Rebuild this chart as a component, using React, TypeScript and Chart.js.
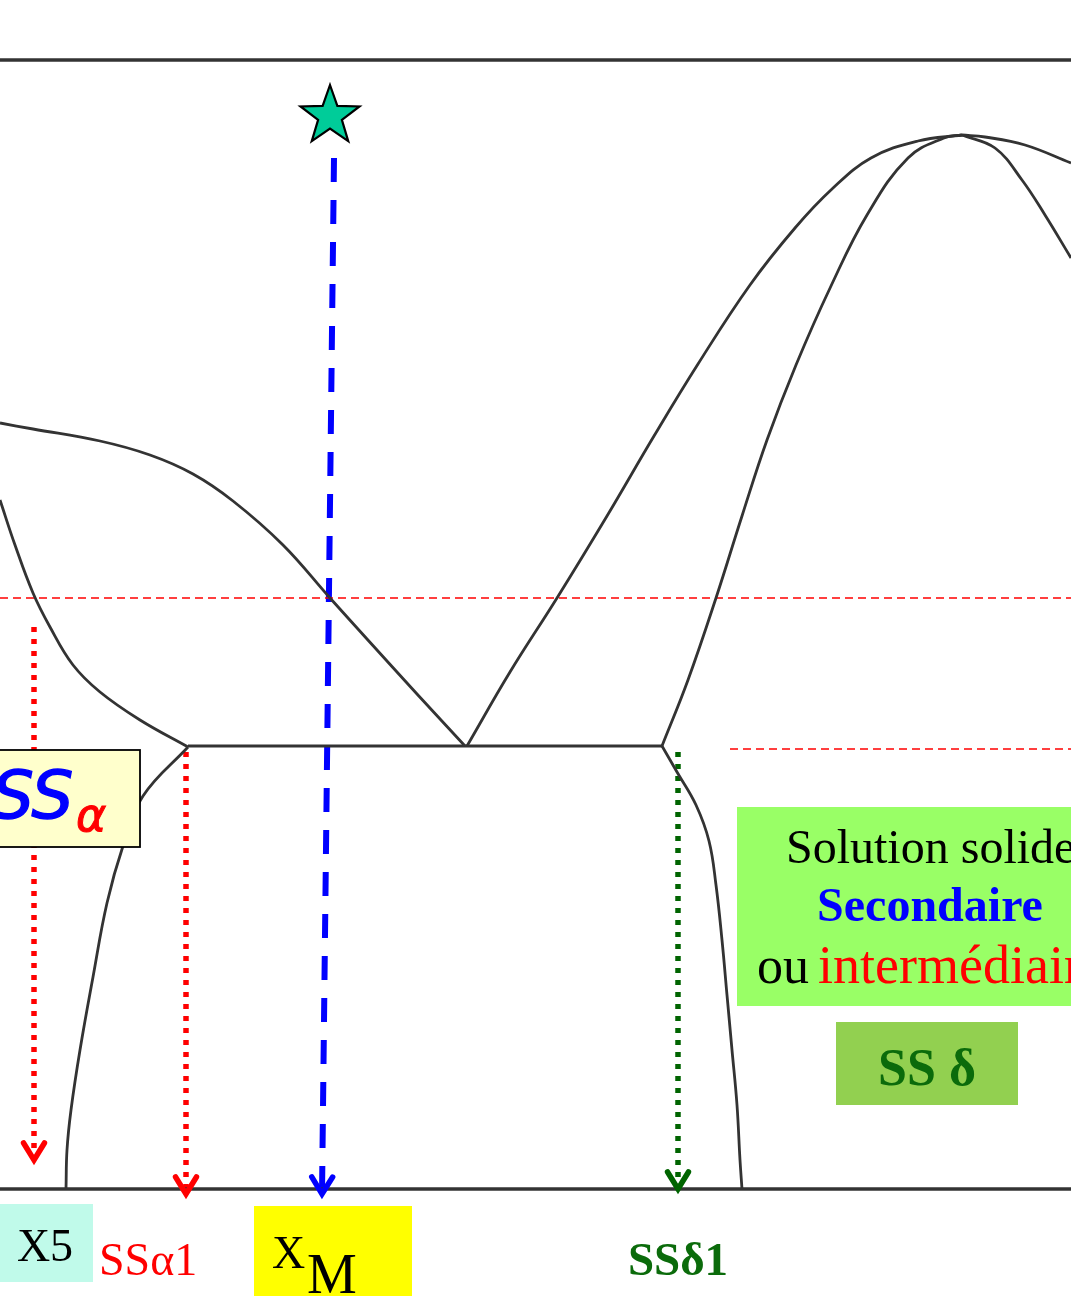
import React, { useEffect, useRef } from "react";
import { Chart, registerables } from "chart.js";
Chart.register(...registerables);

const W = 1071;
const H = 1296;

// Phase diagram data (x: composition units, y: temperature axis reversed, same units as picture)
const borderTop: number[][] = [[0, 60], [1071, 60]];
const borderBottom: number[][] = [[0, 1189], [1071, 1189]];
const liquidusAlpha: number[][] = [[0, 423], [33, 429], [100, 441], [150, 455], [193, 474], [233, 501], [283, 545], [330, 598], [367, 639], [417, 694], [465, 746]];
const solidusAlpha: number[][] = [[0, 500], [15, 545], [33, 593], [50, 627], [73, 665], [100, 692], [140, 720], [188, 747]];
const eutecticLine: number[][] = [[188, 746], [662, 746]];
const solvusAlpha: number[][] = [[188, 747], [143, 796], [123, 846], [107, 903], [93, 977], [80, 1050], [71, 1110], [67, 1150], [66, 1189]];
const liquidusDeltaLeft: number[][] = [[467, 746], [510, 672], [557, 598], [607, 516], [654, 436], [698, 364], [750, 285], [795, 228], [832, 189], [871, 158], [918, 141], [962, 135]];
const solidusDeltaLeft: number[][] = [[662, 746], [688, 680], [716, 598], [742, 516], [767, 440], [796, 365], [831, 286], [867, 215], [908, 158], [944, 138], [962, 135]];
const liquidusDeltaRight: number[][] = [[962, 135], [985, 137], [1025, 145], [1071, 163]];
const solidusDeltaRight: number[][] = [[962, 135], [995, 148], [1022, 180], [1045, 215], [1071, 258]];
const solvusDelta: number[][] = [[662, 746], [677, 772], [696, 805], [709, 841], [716, 885], [722, 940], [727, 995], [732, 1050], [737, 1105], [740, 1160], [742, 1189]];

const isothermT1: number[][] = [[0, 598], [1071, 598]];
const isothermT2: number[][] = [[730, 749], [1071, 749]];
const arrowX5: number[][] = [[34, 627], [34, 1160]];
const arrowSSa1: number[][] = [[186, 752], [186, 1194]];
const arrowXM: number[][] = [[334, 158], [322, 1194]];
const arrowSSd1: number[][] = [[678, 752], [678, 1189]];
const startPoint: number[][] = [[330, 116]];

const pts = (a: number[][]) => a.map(([x, y]) => ({ x, y }));

function makeStar(): HTMLCanvasElement {
  const c = document.createElement("canvas");
  const s = 70;
  c.width = s;
  c.height = s;
  const g = c.getContext("2d")!;
  const cx = s / 2, cy = s / 2, R = 31, r = 12.5;
  g.beginPath();
  for (let i = 0; i < 10; i++) {
    const rad = i % 2 === 0 ? R : r;
    const a = -Math.PI / 2 + (i * Math.PI) / 5;
    const px = cx + rad * Math.cos(a);
    const py = cy + rad * Math.sin(a);
    if (i === 0) g.moveTo(px, py);
    else g.lineTo(px, py);
  }
  g.closePath();
  g.fillStyle = "#00CC99";
  g.fill();
  g.lineWidth = 2.2;
  g.strokeStyle = "#000";
  g.lineJoin = "miter";
  g.stroke();
  return c;
}

const curveStyle = (data: number[][], width = 2.8) => ({
  type: "line" as const,
  data: pts(data),
  borderColor: "#333333",
  borderWidth: width,
  pointRadius: 0,
  tension: 0.4,
  fill: false,
});

const annotationPlugin = {
  id: "phaseAnnotations",
  afterDatasetsDraw(chart: any) {
    const ctx = chart.ctx as CanvasRenderingContext2D;
    const xs = chart.scales.x;
    const ys = chart.scales.y;
    const X = (v: number) => xs.getPixelForValue(v);
    const Y = (v: number) => ys.getPixelForValue(v);

    // arrowheads
    chart.data.datasets.forEach((ds: any, i: number) => {
      if (!ds.arrowHead) return;
      const meta = chart.getDatasetMeta(i);
      const n = meta.data.length;
      const p = meta.data[n - 1];
      const q = meta.data[n - 2];
      const ang = Math.atan2(p.y - q.y, p.x - q.x);
      const len = 20, spread = 0.55;
      ctx.save();
      ctx.strokeStyle = ds.borderColor;
      ctx.lineWidth = 5.5;
      ctx.lineCap = "round";
      ctx.lineJoin = "miter";
      ctx.beginPath();
      ctx.moveTo(p.x - len * Math.cos(ang - spread), p.y - len * Math.sin(ang - spread));
      ctx.lineTo(p.x, p.y);
      ctx.lineTo(p.x - len * Math.cos(ang + spread), p.y - len * Math.sin(ang + spread));
      ctx.stroke();
      ctx.restore();
    });

    ctx.save();
    ctx.textBaseline = "alphabetic";

    // SS alpha box
    ctx.fillStyle = "#FFFFCC";
    ctx.fillRect(X(-2), Y(750), X(140) - X(-2), Y(847) - Y(750));
    ctx.strokeStyle = "#000";
    ctx.lineWidth = 1.8;
    ctx.strokeRect(X(-2), Y(750), X(140) - X(-2), Y(847) - Y(750));
    ctx.fillStyle = "#0000FF";
    ctx.strokeStyle = "#0000FF";
    ctx.lineWidth = 1.4;
    ctx.font = "oblique 66px 'DejaVu Sans'";
    ctx.textAlign = "left";
    ctx.fillText("SS", X(-8), Y(818));
    ctx.strokeText("SS", X(-8), Y(818));
    ctx.fillStyle = "#FF0000";
    ctx.strokeStyle = "#FF0000";
    ctx.lineWidth = 1;
    ctx.font = "oblique 46px 'DejaVu Sans'";
    ctx.fillText("α", X(76), Y(831));
    ctx.strokeText("α", X(76), Y(831));

    // X5 box
    ctx.fillStyle = "#C0FAEA";
    ctx.fillRect(X(0), Y(1204), X(93) - X(0), Y(1282) - Y(1204));
    ctx.fillStyle = "#000";
    ctx.font = "46px 'Liberation Serif'";
    ctx.textAlign = "center";
    ctx.fillText("X5", X(45), Y(1261));

    // SS alpha 1
    ctx.fillStyle = "#FF0000";
    ctx.font = "46px 'Liberation Serif'";
    ctx.textAlign = "left";
    ctx.fillText("SSα1", X(99), Y(1275));

    // X_M box
    ctx.fillStyle = "#FFFF00";
    ctx.fillRect(X(254), Y(1206), X(412) - X(254), Y(1296) - Y(1206));
    ctx.fillStyle = "#000";
    ctx.font = "46px 'Liberation Serif'";
    ctx.fillText("X", X(272), Y(1268));
    ctx.font = "56px 'Liberation Serif'";
    ctx.fillText("M", X(307), Y(1293));

    // SS delta 1
    ctx.fillStyle = "#0B6B0B";
    ctx.font = "bold 47px 'Liberation Serif'";
    ctx.textAlign = "center";
    ctx.fillText("SSδ1", X(678), Y(1275));

    // green description box
    ctx.fillStyle = "#99FF66";
    ctx.fillRect(X(737), Y(807), X(1071) - X(737), Y(1006) - Y(807));
    ctx.textAlign = "left";
    ctx.fillStyle = "#000";
    ctx.font = "48px 'Liberation Serif'";
    ctx.fillText("Solution solide", X(786), Y(863));
    ctx.fillStyle = "#0000FF";
    ctx.font = "bold 48px 'Liberation Serif'";
    ctx.textAlign = "center";
    ctx.fillText("Secondaire", X(930), Y(921));
    ctx.textAlign = "left";
    ctx.fillStyle = "#000";
    ctx.font = "52px 'Liberation Serif'";
    ctx.fillText("ou", X(757), Y(983));
    ctx.fillStyle = "#FF0000";
    ctx.font = "54px 'Liberation Serif'";
    ctx.fillText("intermédiaire", X(818), Y(983));

    // SS delta box
    ctx.fillStyle = "#92D050";
    ctx.fillRect(X(836), Y(1022), X(1018) - X(836), Y(1105) - Y(1022));
    ctx.fillStyle = "#0B6B0B";
    ctx.font = "bold 52px 'Liberation Serif'";
    ctx.textAlign = "center";
    ctx.fillText("SS δ", X(927), Y(1085));

    ctx.restore();
  },
};

export default function App() {
  const ref = useRef<HTMLCanvasElement>(null);
  useEffect(() => {
    document.body.style.margin = "0";
    const canvas = ref.current!;
    const star = makeStar();
    const dotted = (data: number[][], color: string) =>
      ({
        type: "line",
        data: pts(data),
        borderColor: color,
        borderWidth: 5.5,
        borderDash: [5, 7],
        borderCapStyle: "butt",
        pointRadius: 0,
        arrowHead: true,
      } as any);
    const chart = new Chart(canvas, {
      type: "line",
      data: {
        datasets: [
          curveStyle(borderTop, 3.6),
          curveStyle(borderBottom, 3.6),
          curveStyle(liquidusAlpha),
          curveStyle(solidusAlpha),
          curveStyle(eutecticLine, 3),
          curveStyle(solvusAlpha),
          curveStyle(liquidusDeltaLeft),
          curveStyle(solidusDeltaLeft),
          curveStyle(liquidusDeltaRight),
          curveStyle(solidusDeltaRight),
          curveStyle(solvusDelta),
          {
            type: "line",
            data: pts(isothermT1),
            borderColor: "#FF0000",
            borderWidth: 1.6,
            borderDash: [8, 5],
            pointRadius: 0,
          },
          {
            type: "line",
            data: pts(isothermT2),
            borderColor: "#FF0000",
            borderWidth: 1.6,
            borderDash: [8, 5],
            pointRadius: 0,
          },
          dotted(arrowX5, "#FF0000"),
          dotted(arrowSSa1, "#FF0000"),
          {
            type: "line",
            data: pts(arrowXM),
            borderColor: "#0000FF",
            borderWidth: 6,
            borderDash: [24, 18],
            pointRadius: 0,
            arrowHead: true,
          } as any,
          dotted(arrowSSd1, "#006400"),
          {
            type: "scatter",
            data: pts(startPoint),
            pointStyle: star,
            pointRadius: 30,
            showLine: false,
          } as any,
        ],
      },
      options: {
        responsive: false,
        animation: false,
        maintainAspectRatio: false,
        layout: { padding: 0, autoPadding: false },
        plugins: { legend: { display: false }, tooltip: { enabled: false } },
        events: [],
        scales: {
          x: { type: "linear", min: 0, max: W, display: false },
          y: { type: "linear", min: 0, max: H, reverse: true, display: false },
        },
      } as any,
      plugins: [annotationPlugin],
    });
    return () => chart.destroy();
  }, []);
  return (
    <div style={{ position: "absolute", left: 0, top: 0, width: W, height: H, background: "#fff" }}>
      <canvas ref={ref} width={W} height={H} style={{ display: "block" }} />
    </div>
  );
}
